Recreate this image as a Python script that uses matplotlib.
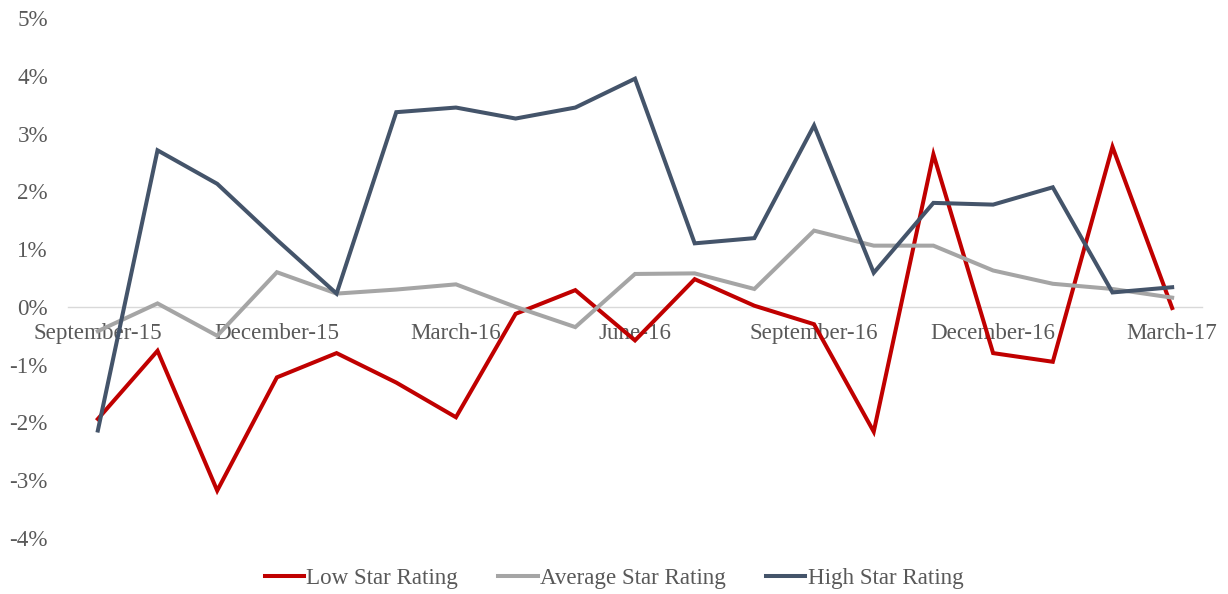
import matplotlib
matplotlib.use("Agg")
import matplotlib.pyplot as plt
from matplotlib.ticker import FuncFormatter

months = ["September-15", "October-15", "November-15", "December-15", "January-16",
          "February-16", "March-16", "April-16", "May-16", "June-16", "July-16",
          "August-16", "September-16", "October-16", "November-16", "December-16",
          "January-17", "February-17", "March-17"]

low = [-1.94, -0.76, -3.18, -1.22, -0.80, -1.31, -1.91, -0.12, 0.29, -0.58,
       0.48, 0.02, -0.30, -2.16, 2.64, -0.80, -0.95, 2.77, -0.02]
average = [-0.42, 0.06, -0.50, 0.60, 0.23, 0.30, 0.39, 0.00, -0.35, 0.57,
           0.58, 0.31, 1.32, 1.06, 1.06, 0.63, 0.40, 0.31, 0.16]
high = [-2.14, 2.71, 2.13, 1.16, 0.23, 3.37, 3.45, 3.26, 3.45, 3.95,
        1.10, 1.19, 3.14, 0.59, 1.80, 1.77, 2.07, 0.25, 0.34]

series_names = ["Low Star Rating", "Average Star Rating", "High Star Rating"]
colors = ["#C00000", "#A5A5A5", "#44546A"]
tick_idx = [0, 3, 6, 9, 12, 15, 18]
yticks = [-4, -3, -2, -1, 0, 1, 2, 3, 4, 5]

plt.rcParams['font.family'] = ['Liberation Serif', 'DejaVu Serif']
fig = plt.figure(figsize=(12.28, 5.94), dpi=100)
ax = fig.add_axes([68/1228, 1-538/594, (1202-68)/1228, (538-18)/594])

x = list(range(len(months)))
for vals, name, c in zip([low, average, high], series_names, colors):
    ax.plot(x, vals, color=c, lw=2.9, label=name, solid_joinstyle='miter')

ax.set_xlim(-0.5, len(months) - 0.5)
ax.set_ylim(-4, 5)
ax.set_yticks(yticks)
ax.yaxis.set_major_formatter(FuncFormatter(lambda v, p: f"{int(round(v))}%"))
ax.set_xticks(tick_idx)
ax.set_xticklabels([months[i] for i in tick_idx])

for s in ['top', 'right', 'left']:
    ax.spines[s].set_visible(False)
ax.spines['bottom'].set_position(('data', 0))
ax.spines['bottom'].set_color('#D9D9D9')
ax.spines['bottom'].set_linewidth(1.0)
ax.spines['bottom'].set_zorder(0.5)

ax.tick_params(axis='both', length=0, labelsize=16.6, labelcolor='#595959')
ax.tick_params(axis='y', pad=14.4)
ax.tick_params(axis='x', pad=11.5)

fig.legend(loc='center', bbox_to_anchor=(0.5, 1-578/594), ncol=3, frameon=False,
           fontsize=16.6, handlelength=1.7, handletextpad=0.1, columnspacing=1.75,
           labelcolor='#595959')

fig.savefig("out.png", dpi=100, facecolor='white')
